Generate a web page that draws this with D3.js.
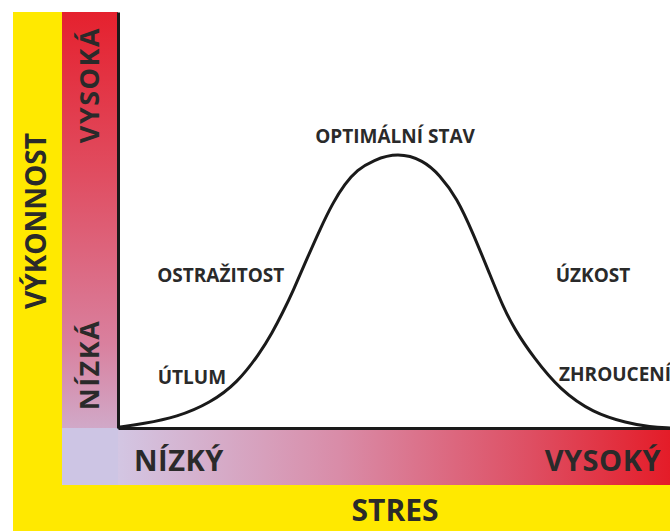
<!DOCTYPE html>
<html>
<head>
<meta charset="utf-8">
<script src="https://cdn.jsdelivr.net/npm/d3@7"></script>
<style>
  body { margin: 0; background: #fff; }
  text { font-family: "Open Sans", sans-serif; font-weight: 700; fill: #2a2a2a; }
</style>
</head>
<body>
<script>
const svgWidth = 670
const svgHeight = 532

// curve: stress (0-100) vs performance (0-100)
const stress = [0, 4.5, 10.7, 16.7, 21.6, 25.7, 27.9, 29.9, 31.7, 34.2, 36.6, 38.9, 41.1, 43.3, 46.2, 50.7,
  55.3, 58.3, 61.4, 64.3, 67.4, 69.7, 71.9, 75.2, 80.1, 86.1, 92.2, 96.4, 100]
const performance = [0.2, 1.0, 2.6, 6.0, 10.8, 18.0, 22.8, 27.9, 32.9, 40.6, 47.8, 54.1, 58.7, 62.0, 64.4, 66.2,
  64.4, 60.8, 55.3, 46.9, 36.8, 29.3, 23.6, 17.1, 9.1, 3.6, 1.2, 0.2, 0]

// zone labels: [text, stress, performance, anchor]
const zoneLabels = [
  ["OPTIMÁLNÍ STAV", 50.2, 68.5, "middle"],
  ["OSTRAŽITOST", 7.1, 35.1, "start"],
  ["ÚZKOST", 79.3, 35.1, "start"],
  ["ÚTLUM", 7.2, 10.6, "start"],
  ["ZHROUCENÍ", 79.9, 11.3, "start"]
]

const axisTitleY = "VÝKONNOST"
const axisTitleX = "STRES"
const levelsY = ["NÍZKÁ", "VYSOKÁ"]
const levelsX = ["NÍZKÝ", "VYSOKÝ"]

const margin = { top: 12, right: 0, bottom: 104, left: 118 }
const chartWidth = svgWidth - margin.left - margin.right
const chartHeight = svgHeight - margin.top - margin.bottom

const svg = d3.select("body").append("svg")
  .attr("width", svgWidth)
  .attr("height", svgHeight)

const defs = svg.append("defs")
const gv = defs.append("linearGradient").attr("id", "gv")
  .attr("x1", 0).attr("y1", 0).attr("x2", 0).attr("y2", 1)
gv.append("stop").attr("offset", "0%").attr("stop-color", "#e5212e")
gv.append("stop").attr("offset", "35%").attr("stop-color", "#e04e62")
gv.append("stop").attr("offset", "70%").attr("stop-color", "#d9809e")
gv.append("stop").attr("offset", "100%").attr("stop-color", "#cbc4e4")

const gh = defs.append("linearGradient").attr("id", "gh")
  .attr("x1", 0).attr("y1", 0).attr("x2", 1).attr("y2", 0)
gh.append("stop").attr("offset", "0%").attr("stop-color", "#d3c6e3")
gh.append("stop").attr("offset", "40%").attr("stop-color", "#d98ca8")
gh.append("stop").attr("offset", "75%").attr("stop-color", "#de4e62")
gh.append("stop").attr("offset", "100%").attr("stop-color", "#e41c28")

// yellow frame
svg.append("rect").attr("x", 13).attr("y", margin.top)
  .attr("width", 49).attr("height", svgHeight - margin.top - 1).attr("fill", "#ffe900")
svg.append("rect").attr("x", 13).attr("y", 485)
  .attr("width", svgWidth - 13).attr("height", 46).attr("fill", "#ffe900")

// gradient bars
svg.append("rect").attr("x", 62).attr("y", margin.top)
  .attr("width", margin.left - 62).attr("height", 485 - margin.top).attr("fill", "url(#gv)")
svg.append("rect").attr("x", margin.left).attr("y", margin.top + chartHeight)
  .attr("width", chartWidth).attr("height", 485 - margin.top - chartHeight).attr("fill", "url(#gh)")
svg.append("rect").attr("x", 62).attr("y", margin.top + chartHeight)
  .attr("width", margin.left - 62).attr("height", 485 - margin.top - chartHeight).attr("fill", "#cdc5e4")

const chartG = svg.append("g")
  .attr("transform", `translate(${margin.left}, ${margin.top})`)

const x = d3.scaleLinear().domain([0, 100]).range([0, chartWidth])
const y = d3.scaleLinear().domain([0, 100]).range([chartHeight, 0])

chartG.append("g")
  .attr("transform", `translate(0, ${chartHeight})`)
  .call(d3.axisBottom(x).ticks(0).tickSizeOuter(0))
chartG.append("g")
  .call(d3.axisLeft(y).ticks(0).tickSizeOuter(0))
svg.selectAll(".domain").attr("stroke", "#1a1a1a").attr("stroke-width", 3)

const line = d3.line()
  .x((d, i) => x(stress[i]))
  .y(d => y(d))
  .curve(d3.curveBasis)

chartG.append("path")
  .datum(performance)
  .attr("fill", "none")
  .attr("stroke", "#1a1a1a")
  .attr("stroke-width", 3)
  .attr("d", line)

chartG.selectAll(".zone")
  .data(zoneLabels)
  .enter()
  .append("text")
  .attr("class", "zone")
  .attr("x", d => x(d[1]))
  .attr("y", d => y(d[2]))
  .attr("text-anchor", d => d[3])
  .attr("font-size", 19)
  .text(d => d[0])

// axis titles and levels
svg.append("text")
  .attr("transform", `translate(46, ${margin.top + 209}) rotate(-90)`)
  .attr("text-anchor", "middle").attr("font-size", 28)
  .text(axisTitleY)
svg.append("text")
  .attr("x", 395).attr("y", 521)
  .attr("text-anchor", "middle").attr("font-size", 30)
  .text(axisTitleX)

svg.append("text")
  .attr("transform", `translate(99, ${margin.top + 73}) rotate(-90)`)
  .attr("text-anchor", "middle").attr("font-size", 27).attr("letter-spacing", 1.5)
  .text(levelsY[1])
svg.append("text")
  .attr("transform", `translate(99, ${margin.top + 353}) rotate(-90)`)
  .attr("text-anchor", "middle").attr("font-size", 27).attr("letter-spacing", 1.5)
  .text(levelsY[0])

svg.append("text")
  .attr("x", 134).attr("y", 471)
  .attr("font-size", 29).attr("letter-spacing", 0.5)
  .text(levelsX[0])
svg.append("text")
  .attr("x", 661).attr("y", 471)
  .attr("text-anchor", "end").attr("font-size", 29).attr("letter-spacing", 0.5)
  .text(levelsX[1])
</script>
</body>
</html>
